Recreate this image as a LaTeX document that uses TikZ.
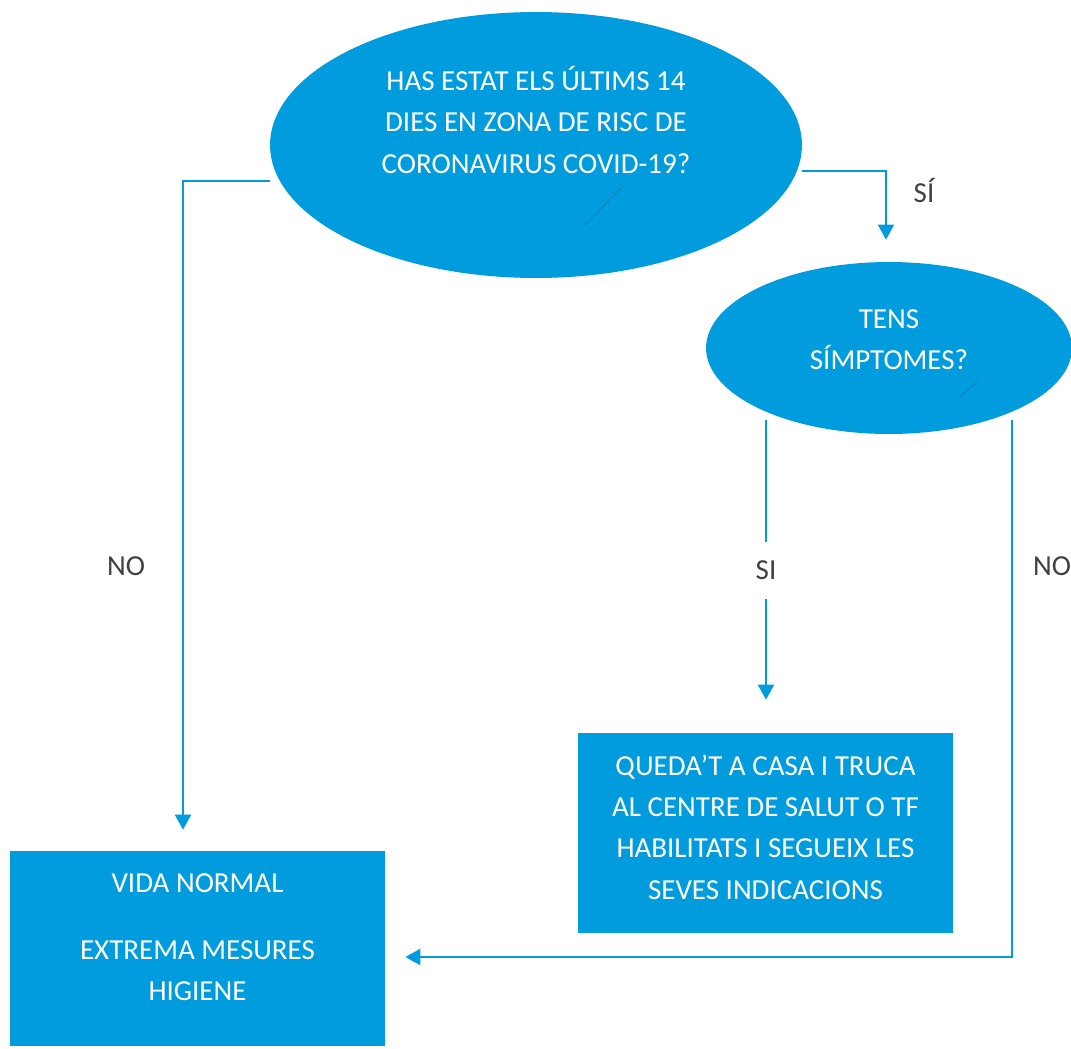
\documentclass[tikz,border=0pt]{standalone}
\usepackage{fontspec}
\setmainfont{Carlito}
\usepackage{tikz}
\usetikzlibrary{arrows.meta,shapes.geometric}
\definecolor{flowblue}{HTML}{009CDE}
\definecolor{labelgray}{HTML}{404040}
\tikzset{
  question/.style={ellipse, fill=flowblue, inner sep=0pt},
  answer/.style={rectangle, fill=flowblue, inner sep=0pt},
  shapetext/.style={text=white, align=center, font=\fontsize{16.5pt}{23.5pt}\selectfont},
  choice/.style={text=labelgray, font=\fontsize{16.5pt}{23.5pt}\selectfont},
  flow/.style={draw=flowblue, line width=1.1pt, -{Triangle[width=0.32cm,length=0.3cm]}},
  smudge/.style={line width=0.3pt, draw=flowblue!55!black, opacity=0.5},
}

\begin{document}
\begin{tikzpicture}[x=0.02cm, y=-0.02cm]%
\useasboundingbox (0,0) rectangle (1071,1048);%
% questions
\node[question, minimum width=10.64cm, minimum height=5.32cm] (zone) at (536,145) {};%
\node[shapetext] (zonetext) at (536,120) {HAS ESTAT ELS ÚLTIMS 14\\DIES EN ZONA DE RISC DE\\CORONAVIRUS COVID-19?};%
\node[question, minimum width=7.32cm, minimum height=3.44cm] (symptoms) at (889,348) {};%
\node[shapetext] (symptomstext) at (889,340) {TENS\\SÍMPTOMES?};%
\draw[smudge] (583,227) -- (623,186);%
\draw[smudge] (960,397) -- (977,382);%
% answers
\node[answer, minimum width=7.5cm, minimum height=4cm] (stayhome) at (765.5,833) {};%
\node[shapetext] (stayhometext) at (765.5,827) {QUEDA’T A CASA I TRUCA\\AL CENTRE DE SALUT O TF\\HABILITATS I SEGUEIX LES\\SEVES INDICACIONS};%
\node[answer, minimum width=7.5cm, minimum height=3.9cm] (normal) at (197.5,948.5) {};%
\node[shapetext] (normaltext) at (197.5,937) {VIDA NORMAL\\[0.52cm]EXTREMA MESURES\\HIGIENE};%
% connectors
\draw[flow, shorten >=0.42cm] ([yshift=-0.72cm]zone.west) -| ([xshift=-0.29cm]normal.north);%
\node[choice] (nozone) at (126,566) {NO};%
\draw[flow, shorten >=0.44cm] ([yshift=-0.52cm]zone.east) -| ([xshift=-0.06cm]symptoms.north);%
\node[choice] (yeszone) at (924,190) {SÍ};%
\coordinate (yesstart) at (766,420);%
\draw[flow, shorten >=0.66cm] (yesstart) -- node[choice, fill=white, pos=0.48, inner xsep=2pt, inner ysep=0.38cm] (yessymptoms) {SI} (yesstart |- stayhome.north);%
\coordinate (nostart) at (1012,420);%
\draw[flow, shorten >=0.4cm] (nostart) |- ([yshift=-0.17cm]normal.east);%
\node[choice] (nosymptoms) at (1052,566) {NO};%
\end{tikzpicture}
\end{document}
